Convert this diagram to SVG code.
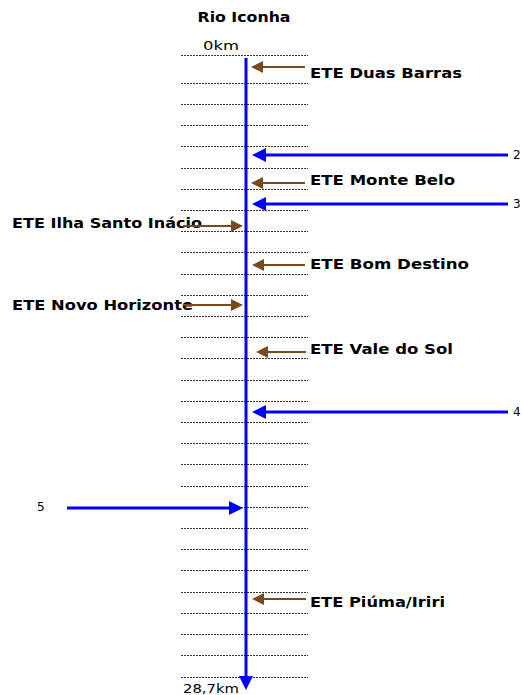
<svg xmlns="http://www.w3.org/2000/svg" width="522" height="695" viewBox="0 0 522 695">
<style>
.lbl{font-family:"DejaVu Sans","Liberation Sans",sans-serif;font-weight:bold;font-size:14px;fill:#000}
.num{font-family:"DejaVu Sans","Liberation Sans",sans-serif;font-size:12px;fill:#000}
.km{font-family:"DejaVu Sans","Liberation Sans",sans-serif;font-size:13px;fill:#000}
.grid{stroke:#333;stroke-width:1;stroke-dasharray:2 1;fill:none}
.blue{stroke:#0000ff;stroke-width:3;fill:none}
.brown{stroke:#7b4a1c;stroke-width:2;fill:none}
</style>
<defs>
<marker id="ab" markerUnits="userSpaceOnUse" markerWidth="14" markerHeight="14" refX="0" refY="7" orient="auto"><path d="M0,0 L14,7 L0,14 z" fill="#0000ff"/></marker>
<marker id="ar" markerUnits="userSpaceOnUse" markerWidth="12" markerHeight="12" refX="0" refY="6" orient="auto"><path d="M0,0 L12,6 L0,12 z" fill="#7b4a1c"/></marker>
</defs>
<rect width="522" height="695" fill="#fff"/>
<g id="grid">
<path class="grid" d="M181,55.5H308M181,83.5H308M181,104.5H308M181,125.5H308M181,146.5H308M181,168.5H308M181,189.5H308M181,210.5H308M181,231.5H308M181,252.5H308M181,274.5H308M181,295.5H308M181,316.5H308M181,337.5H308M181,358.5H308M181,380.5H308M181,401.5H308M181,422.5H308M181,443.5H308M181,464.5H308M181,486.5H308M181,507.5H308M181,528.5H308M181,549.5H308M181,570.5H308M181,592.5H308M181,613.5H308M181,634.5H308M181,655.5H308M181,677.5H308"/>
</g>
<g id="title"><text class="lbl" x="244" y="22" text-anchor="middle" textLength="93" lengthAdjust="spacingAndGlyphs">Rio Iconha</text></g>
<g id="km0"><text class="km" x="203" y="50" textLength="36" lengthAdjust="spacingAndGlyphs">0km</text></g>
<g id="km287"><text class="km" x="183" y="693" textLength="56" lengthAdjust="spacingAndGlyphs">28,7km</text></g>
<g id="ete-duas-barras"><text class="lbl" x="310" y="78" textLength="152" lengthAdjust="spacingAndGlyphs">ETE Duas Barras</text></g>
<g id="ete-monte-belo"><text class="lbl" x="310" y="185" textLength="145" lengthAdjust="spacingAndGlyphs">ETE Monte Belo</text></g>
<g id="ete-ilha"><text class="lbl" x="12" y="228" textLength="190" lengthAdjust="spacingAndGlyphs">ETE Ilha Santo Inácio</text></g>
<g id="ete-bom-destino"><text class="lbl" x="310" y="269" textLength="159" lengthAdjust="spacingAndGlyphs">ETE Bom Destino</text></g>
<g id="ete-novo-horizonte"><text class="lbl" x="12" y="310" textLength="181" lengthAdjust="spacingAndGlyphs">ETE Novo Horizonte</text></g>
<g id="ete-vale-do-sol"><text class="lbl" x="310" y="354" textLength="143" lengthAdjust="spacingAndGlyphs">ETE Vale do Sol</text></g>
<g id="ete-piuma"><text class="lbl" x="310" y="607" textLength="135" lengthAdjust="spacingAndGlyphs">ETE Piúma/Iriri</text></g>
<g id="n2"><text class="num" x="513" y="159">2</text></g>
<g id="n3"><text class="num" x="513" y="208">3</text></g>
<g id="n4"><text class="num" x="513" y="416">4</text></g>
<g id="n5"><text class="num" x="37" y="511">5</text></g>
<g id="connectors">
<path class="blue" d="M246,58V676" marker-end="url(#ab)"/>
<path class="blue" d="M508,155H266" marker-end="url(#ab)"/>
<path class="blue" d="M508,204H266" marker-end="url(#ab)"/>
<path class="blue" d="M508,412H266" marker-end="url(#ab)"/>
<path class="blue" d="M67,508H229" marker-end="url(#ab)"/>
<path class="brown" d="M305,67H263" marker-end="url(#ar)"/>
<path class="brown" d="M305,183H263" marker-end="url(#ar)"/>
<path class="brown" d="M183,226H231" marker-end="url(#ar)"/>
<path class="brown" d="M305,265H264" marker-end="url(#ar)"/>
<path class="brown" d="M183,305H231" marker-end="url(#ar)"/>
<path class="brown" d="M306,352H268" marker-end="url(#ar)"/>
<path class="brown" d="M306,599H264" marker-end="url(#ar)"/>
</g>
</svg>
